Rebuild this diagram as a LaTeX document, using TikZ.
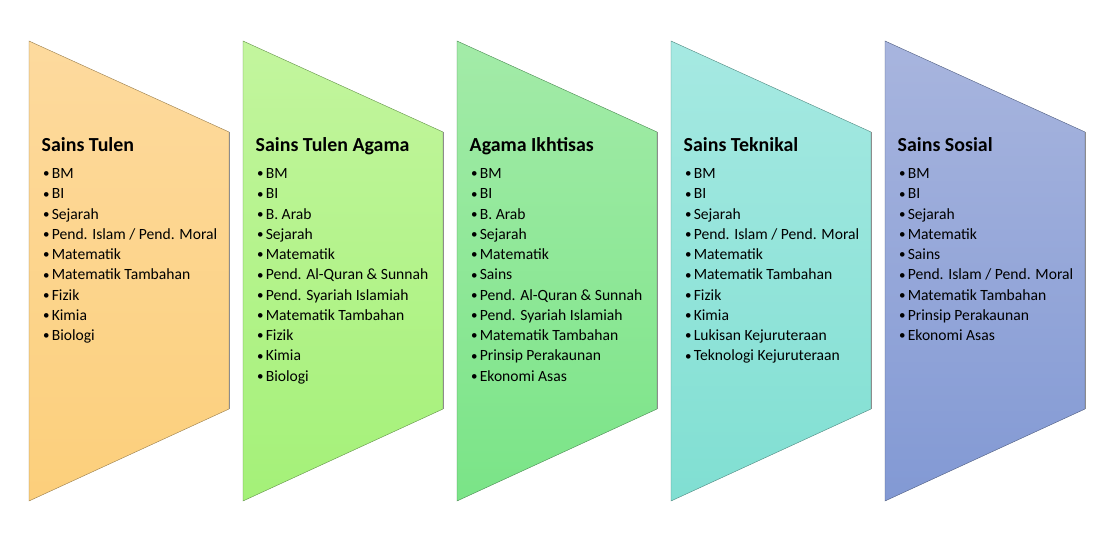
\documentclass[tikz,border=0pt]{standalone}
\usepackage{fontspec}
\setmainfont{Carlito}
\definecolor{orangetop}{HTML}{FDDA9E}
\definecolor{orangebot}{HTML}{FCCF7B}
\definecolor{limetop}{HTML}{C3F59E}
\definecolor{limebot}{HTML}{A4F178}
\definecolor{greentop}{HTML}{A3EBA8}
\definecolor{greenbot}{HTML}{7AE487}
\definecolor{tealtop}{HTML}{A6E9E2}
\definecolor{tealbot}{HTML}{80DFD2}
\definecolor{bluetop}{HTML}{A8B5DE}
\definecolor{bluebot}{HTML}{8299D4}
\tikzset{
  head/.style={font=\fontsize{19.9}{22}\selectfont\bfseries, anchor=base west, inner sep=0pt},
  subj/.style={font=\fontsize{15.6}{20.25}\selectfont, align=left, anchor=north west, inner sep=0pt},
  edge/.style={draw=black!45, line width=1.1pt}
}
\newcommand{\itm}{\makebox[8.6pt][l]{\raisebox{0.8pt}{\fontsize{13}{13}\selectfont\textbullet}}}
\begin{document}
\begin{tikzpicture}[x=1pt,y=1pt]
    \useasboundingbox (0,0) rectangle (1118,540);
    % panels
    \shade[draw=orangebot!60!black, line width=0.4pt, top color=orangetop, bottom color=orangebot]
        (29,499) -- (229,408) -- (229,131) -- (29,39) -- cycle;
    \shade[draw=limebot!60!black, line width=0.4pt, top color=limetop, bottom color=limebot]
        (243,499) -- (443,408) -- (443,131) -- (243,39) -- cycle;
    \shade[draw=greenbot!60!black, line width=0.4pt, top color=greentop, bottom color=greenbot]
        (457,499) -- (657,408) -- (657,131) -- (457,39) -- cycle;
    \shade[draw=tealbot!60!black, line width=0.4pt, top color=tealtop, bottom color=tealbot]
        (671,499) -- (871,408) -- (871,131) -- (671,39) -- cycle;
    \shade[draw=bluebot!60!black, line width=0.4pt, top color=bluetop, bottom color=bluebot]
        (885,499) -- (1085,408) -- (1085,131) -- (885,39) -- cycle;
    \draw [edge] (229.5,408) -- (229.5,131);
    \draw [edge] (443.5,408) -- (443.5,131);
    \draw [edge] (657.5,408) -- (657.5,131);
    \draw [edge] (871.5,408) -- (871.5,131);
    \draw [edge] (1085.5,408) -- (1085.5,131);
    % titles
    \node [head] (tulen)    at (41.5,388.5)  {Sains Tulen};
    \node [head] (agama)    at (255.5,388.5) {Sains Tulen Agama};
    \node [head] (ikhtisas) at (469.5,388.5) {Agama Ikhtisas};
    \node [head] (teknikal) at (683.5,388.5) {Sains Teknikal};
    \node [head] (sosial)   at (897.5,388.5) {Sains Sosial};
    % subject lists
    \node [subj] (tulenlist) at (43,371.5) {\itm BM\\ \itm BI\\ \itm Sejarah\\ \itm Pend. Islam / Pend. Moral\\
        \itm Matematik\\ \itm Matematik Tambahan\\ \itm Fizik\\ \itm Kimia\\ \itm Biologi};
    \node [subj] (agamalist) at (257,371.5) {\itm BM\\ \itm BI\\ \itm B. Arab\\ \itm Sejarah\\ \itm Matematik\\
        \itm Pend. Al-Quran \& Sunnah\\ \itm Pend. Syariah Islamiah\\ \itm Matematik Tambahan\\
        \itm Fizik\\ \itm Kimia\\ \itm Biologi};
    \node [subj] (ikhtisaslist) at (471,371.5) {\itm BM\\ \itm BI\\ \itm B. Arab\\ \itm Sejarah\\ \itm Matematik\\
        \itm Sains\\ \itm Pend. Al-Quran \& Sunnah\\ \itm Pend. Syariah Islamiah\\ \itm Matematik Tambahan\\
        \itm Prinsip Perakaunan\\ \itm Ekonomi Asas};
    \node [subj] (teknikallist) at (685,371.5) {\itm BM\\ \itm BI\\ \itm Sejarah\\ \itm Pend. Islam / Pend. Moral\\
        \itm Matematik\\ \itm Matematik Tambahan\\ \itm Fizik\\ \itm Kimia\\ \itm Lukisan Kejuruteraan\\
        \itm Teknologi Kejuruteraan};
    \node [subj] (sosiallist) at (899,371.5) {\itm BM\\ \itm BI\\ \itm Sejarah\\ \itm Matematik\\ \itm Sains\\
        \itm Pend. Islam / Pend. Moral\\ \itm Matematik Tambahan\\ \itm Prinsip Perakaunan\\ \itm Ekonomi Asas};
\end{tikzpicture}
\end{document}
